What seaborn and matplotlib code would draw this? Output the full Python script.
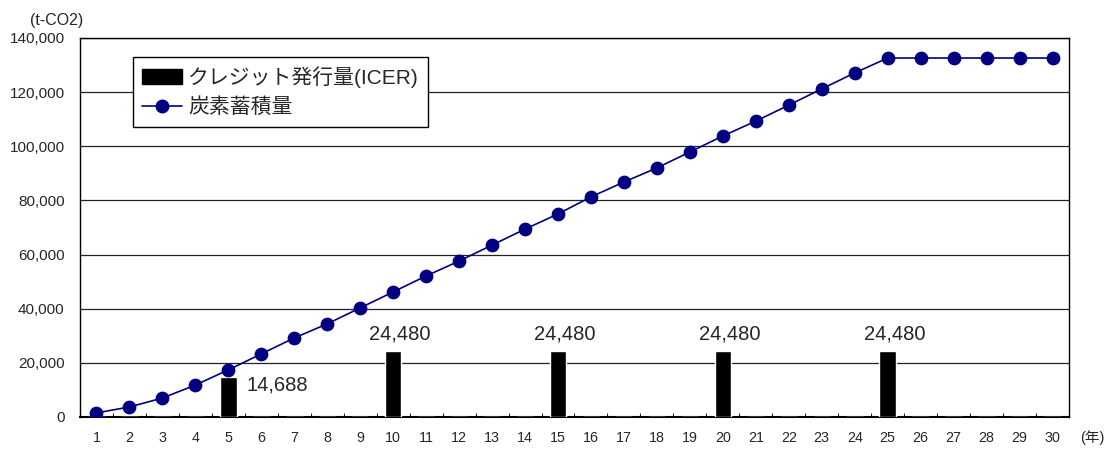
import numpy as np
import pandas as pd
import matplotlib
matplotlib.use("Agg")
import matplotlib.pyplot as plt
import seaborn as sns
from matplotlib.lines import Line2D
from matplotlib.patches import Patch
from matplotlib.ticker import FuncFormatter, MultipleLocator

# data
years = list(range(1, 31))
carbon = [1500, 3700, 7000, 11800, 17400, 23300, 29200, 34400, 40300, 46200,
          52100, 57600, 63500, 69400, 75000, 81300, 86800, 92000, 97900, 103800,
          109300, 115200, 121200, 127100, 132600, 132600, 132600, 132600, 132600, 132600]
credit_years = [5, 10, 15, 20, 25]
credit_values = [14688, 24480, 24480, 24480, 24480]
credit = [credit_values[credit_years.index(y)] if y in credit_years else 0 for y in years]

df = pd.DataFrame({"year": years, "carbon": carbon, "credit": credit})

sns.set_style("white")
plt.rcParams["font.family"] = ["Liberation Sans", "Noto Sans CJK JP"]

fig = plt.figure(figsize=(11.08, 4.49), dpi=100)
ax = fig.add_axes([0.0722, 0.0713, 0.8926, 0.8441])

# credit bars
sns.barplot(data=df, x="year", y="credit", color="black", width=0.5,
            saturation=1, ax=ax, zorder=3)

# cumulative carbon line
sns.pointplot(data=df, x="year", y="carbon", color="#000080", markers="o",
              linestyles="-", ax=ax, markersize=9, linewidth=1.2, zorder=4)

# bar labels
for i, y in enumerate(years):
    v = credit[i]
    if v == 0:
        continue
    label = f"{v:,}"
    if v < 20000:
        ax.text(i + 0.55, v * 0.8, label, ha="left", va="center", fontsize=14.5)
    else:
        ax.text(i + 0.2, v + 2600, label, ha="center", va="bottom", fontsize=14.5)

ax.set_xlim(-0.5, 29.5)
ax.set_ylim(0, 140000)
ax.yaxis.set_major_locator(MultipleLocator(20000))
ax.yaxis.set_major_formatter(FuncFormatter(lambda v, p: f"{int(v):,}"))
ax.grid(axis="y", color="#222222", linewidth=0.9, zorder=0)
ax.set_axisbelow(True)
ax.set_xlabel("")
ax.set_ylabel("")

ax.set_xticks(np.arange(0.5, 29.5, 1), minor=True)
ax.tick_params(axis="x", which="major", length=0, pad=10, labelsize=10.3)
ax.tick_params(axis="x", which="minor", direction="in", length=3, width=0.8)
ax.tick_params(axis="y", which="major", direction="out", length=3, width=0.8,
               labelsize=11, pad=8)
ax.tick_params(axis="x", which="both", bottom=True)

for s in ax.spines.values():
    s.set_visible(True)
    s.set_color("black")
    s.set_linewidth(1.0)
ax.spines["bottom"].set_linewidth(1.5)

# unit labels
fig.text(57 / 1108, 1 - 20 / 449, "(t-CO2)", ha="center", va="center", fontsize=11.5)
fig.text(1092 / 1108, 1 - 438 / 449, "(年)", ha="center", va="center", fontsize=10.5)

handles = [Patch(facecolor="black", edgecolor="black"),
           Line2D([0], [0], color="#000080", marker="o", markersize=9, linewidth=1.2)]
leg = ax.legend(handles, ["クレジット発行量(ICER)", "炭素蓄積量"],
                loc="upper left", bbox_to_anchor=(0.0536, 0.95), fontsize=15,
                frameon=True, fancybox=False, framealpha=1, edgecolor="black",
                handlelength=1.9, handletextpad=0.3, labelspacing=0.45,
                borderpad=0.45, borderaxespad=0)
leg.get_frame().set_linewidth(1.0)

fig.savefig("out.png", dpi=100)
